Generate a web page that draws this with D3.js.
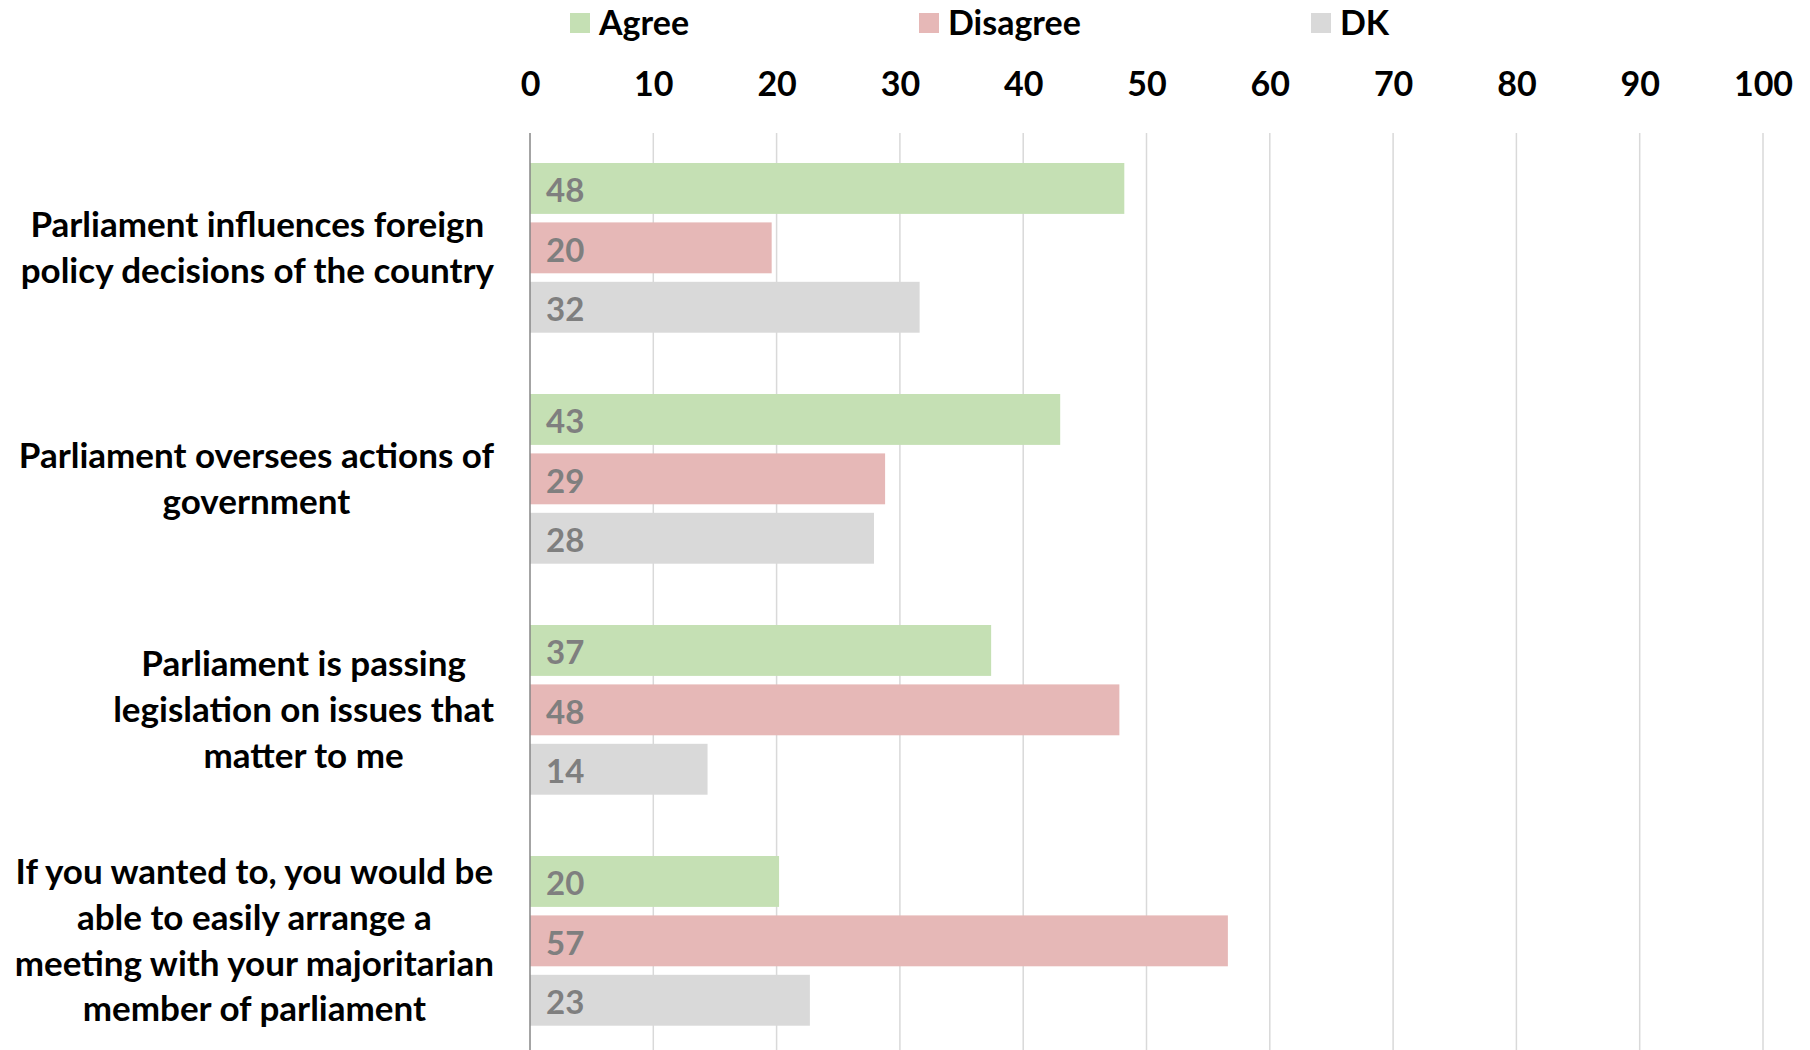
<!DOCTYPE html>
<html><head><meta charset="utf-8">
<script src="https://cdn.jsdelivr.net/npm/d3@7"></script>
<style>
html,body{margin:0;padding:0;background:#fff;}
svg{display:block;font-family:Lato,"Open Sans",sans-serif;font-weight:bold;}
</style></head>
<body>
<svg id="chart" width="1810" height="1050"></svg>
<script>
const categories = [
  ["Parliament influences foreign", "policy decisions of the country"],
  ["Parliament oversees actions of", "government"],
  ["Parliament is passing", "legislation on issues that", "matter to me"],
  ["If you wanted to, you would be", "able to easily arrange a", "meeting with your majoritarian", "member of parliament"]
];
const seriesNames = ["Agree", "Disagree", "DK"];
const agree = [48.2, 43.0, 37.4, 20.2];
const disagree = [19.6, 28.8, 47.8, 56.6];
const dk = [31.6, 27.9, 14.4, 22.7];
const colors = ["#c5e0b4", "#e6b8b7", "#d9d9d9"];
const ticks = [0,10,20,30,40,50,60,70,80,90,100];

const series = [agree, disagree, dk];
const svg = d3.select("#chart");
const x = d3.scaleLinear().domain([0,100]).range([530,1763]);
const y0 = d3.scaleBand().domain(d3.range(categories.length)).range([133,1057]).paddingInner(0).paddingOuter(0);
const y1 = d3.scaleBand().domain(seriesNames).range([30, 30+3*59.4-8.5]).paddingInner(8.5/59.4).paddingOuter(0);

// gridlines
svg.append("g").selectAll("line").data(ticks.slice(1)).join("line")
  .attr("x1", d=>x(d)).attr("x2", d=>x(d)).attr("y1",133).attr("y2",1050)
  .attr("stroke","#d9d9d9").attr("stroke-width",1.5);

// tick labels (top axis)
const axis = d3.axisTop(x).tickValues(ticks).tickSize(0).tickPadding(0);
const ag = svg.append("g").attr("transform","translate(0,96)").call(axis);
ag.select(".domain").remove();
ag.selectAll("text").attr("font-size",34).attr("font-family","Lato").attr("font-weight","bold").attr("fill","#000");

// bars
const groups = svg.append("g").selectAll("g").data(categories).join("g")
  .attr("transform",(d,i)=>`translate(0,${y0(i)})`);
groups.each(function(c,i){
  const g = d3.select(this);
  seriesNames.forEach((s,j)=>{
    const v = series[j][i];
    g.append("rect").attr("x",x(0)).attr("y",y1(s)).attr("width",x(v)-x(0)).attr("height",y1.bandwidth())
      .attr("fill",colors[j]);
    g.append("text").attr("x",x(0)+16).attr("y",y1(s)+y1.bandwidth()/2).attr("dy","0.42em")
      .attr("font-size",33).attr("fill","#7f7f7f").text(Math.round(v));
  });
});

// axis line
svg.append("line").attr("x1",x(0)).attr("x2",x(0)).attr("y1",133).attr("y2",1050).attr("stroke","#868686").attr("stroke-width",1.5);

// category labels
const rightEdge = 494, lh = 45.8;
categories.forEach((lines,i)=>{
  const cy = y0(i)+y0.bandwidth()/2;
  const t = svg.append("text").attr("font-size",35).attr("fill","#000").attr("text-anchor","middle");
  lines.forEach((l,k)=>{
    t.append("tspan").attr("x",0).attr("y",cy+(k-(lines.length-1)/2)*lh).attr("dy","0.32em").text(l);
  });
  let maxW = 0;
  t.selectAll("tspan").each(function(){ maxW = Math.max(maxW, this.getComputedTextLength()); });
  t.selectAll("tspan").attr("x", rightEdge - maxW/2);
});

// legend
const legX = [570, 919, 1311];
const lg = svg.append("g").selectAll("g").data(seriesNames).join("g")
  .attr("transform",(d,i)=>`translate(${legX[i]},23)`);
lg.append("rect").attr("x",0).attr("y",-10).attr("width",20).attr("height",20).attr("fill",(d,i)=>colors[i]);
lg.append("text").attr("x",29).attr("dy","0.36em").attr("font-size",34).attr("fill","#000").text(d=>d);
</script>
</body></html>
